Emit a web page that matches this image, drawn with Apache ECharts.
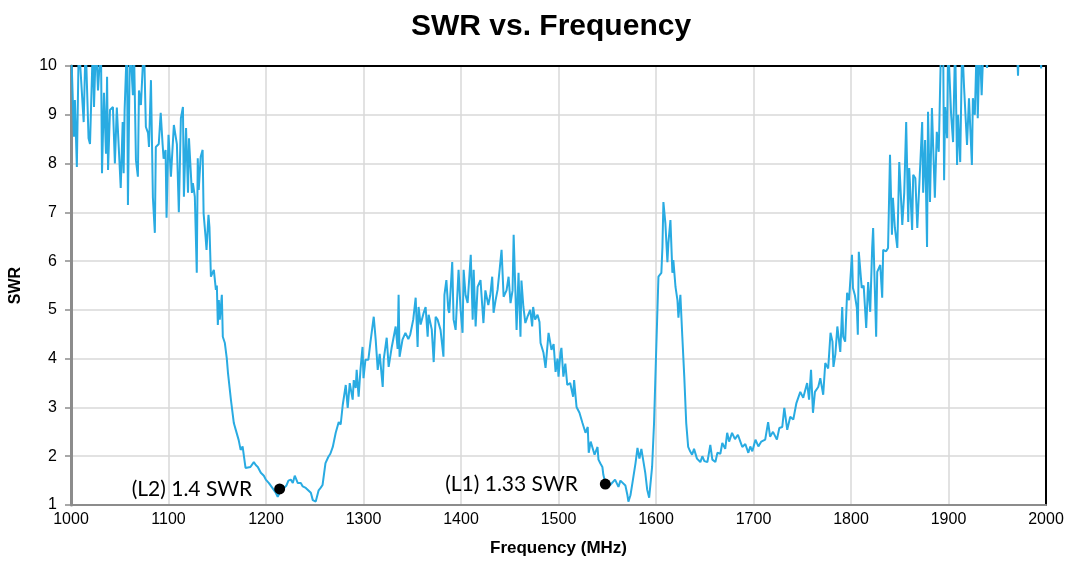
<!DOCTYPE html>
<html>
<head>
<meta charset="utf-8">
<script src="https://cdn.jsdelivr.net/npm/echarts@6/dist/echarts.min.js"></script>
<style>html,body{margin:0;padding:0;background:#fff}#c{width:1070px;height:562px}</style>
</head>
<body>
<div id="c"></div>
<script>
var titleText = 'SWR vs. Frequency';
var xName = 'Frequency (MHz)';
var yName = 'SWR';
var xTicks = [1000, 2000, 100];
var yTicks = [1, 10, 1];

var freqMHz = [
1000,1003,1004,1006,1008,1013,1015,1018,1019.5,1022.5,1023.6,1025.6,1027.7,1030.7,1031.8,1033.8,1035.9,1037,1038,1040,
1043,1045,1047,1049,1051,1053,1054,1055,1057.4,1058.4,1060.5,1063.5,1064.5,1066.6,1068.6,1069.7,1071.7,1074.8,1076.8,1079,
1080,1082,1084,1086,1087,1090,1092,1094,1095,1097,1098,1100,1102.5,1105.5,1108.6,1110.6,1112.7,1114.8,1115.8,1118,
1120,1121,1124,1125,1127,1129,1130,1131,1133,1135,1136,1138,1139,1141,1142,1143.5,1144.5,1146.5,1148.6,1149.6,
1150.6,1151.6,1152.6,1154.7,1155.7,1157.8,1159.8,1161,1164,1165,1167,1169,1172,1174,1176,1179,1181,1184,1187.5,1189.5,
1191.6,1194.7,1197.8,1199.8,1203,1205,1208,1210,1212,1214,1216,1218,1221,1223,1225.4,1227.5,1229.5,1230.5,1232.6,1235.7,
1237.7,1240.8,1242.8,1246,1248,1249,1251,1254,1256,1258,1259,1261,1264,1266,1268.5,1271.5,1274.6,1276.6,1278.7,1281.8,
1283.8,1285.9,1288.9,1290,1292,1293,1295,1297,1299,1300,1302,1305,1307,1310.5,1312.5,1314.6,1316.6,1319.7,1320.7,1323.8,
1325.8,1329,1331,1333,1335,1336,1337,1340,1343,1346,1348,1351,1353.5,1355.5,1356.5,1358.6,1361.7,1363.7,1365.8,1366.8,
1370,1372,1374,1376,1379,1382,1383,1385,1387,1388,1391,1392.4,1394.5,1397.5,1399.6,1401.6,1402.7,1404.7,1406.8,1410,
1412,1413,1415,1417,1420,1423,1425,1428,1430,1432,1433.4,1435.5,1437.5,1439.6,1441.6,1443.7,1446.7,1448.8,1450.8,1452.9,
1454,1457,1459,1461,1462,1464,1466,1468,1471,1473,1474,1476,1478.5,1480.5,1481.6,1484.6,1486.7,1489.8,1492.8,1495,
1497,1499,1500,1502,1503,1505,1507,1509,1512,1515,1516,1518.5,1521.5,1524.6,1527.7,1530,1531,1533,1535,1537,
1540,1541,1543,1545,1546,1548,1550,1553,1555,1558,1561.5,1563.5,1565.5,1568.6,1570.7,1571.7,1573.8,1575.8,1579,1581,
1583,1585,1587,1589,1591,1593,1596,1598,1600,1602.5,1605.5,1606.6,1607.6,1609.6,1611.7,1612.7,1614.8,1616.8,1617.8,1620,
1622,1623,1625,1627,1629,1631,1633,1635,1637,1639,1642,1645.5,1647.5,1649.6,1652.7,1655.7,1657.8,1660.9,1663,1664,
1666,1668,1671,1673,1675,1678,1681,1684,1686.5,1688.5,1691.6,1694.7,1696.7,1698.8,1702,1705,1708,1712,1715,1717,
1720,1724,1726.5,1729.5,1731.6,1734.6,1737.7,1740.8,1744,1746,1748,1751,1755,1757,1759,1761,1763,1766.4,1768.5,1771.5,
1773.6,1776.6,1779,1781,1782,1784,1786,1789,1791,1792,1794,1796,1798,1801,1802,1804,1806,1807,1808,1811,
1813,1815.6,1817.6,1819.7,1821.7,1822.7,1825.8,1826.9,1830,1832,1833,1836,1838,1840,1842,1843,1845,1847.5,1849.5,1852.6,
1854.6,1856.6,1858.7,1859.7,1862.7,1863.8,1866,1868,1871,1873,1874,1876,1878,1879,1881,1883,1886,1888,1890,1892.4,
1894.5,1895.5,1896.5,1898.6,1899.6,1902.7,1904.7,1906.8,1908.8,1909.8,1912,1914,1916,1919,1921,1924,1925,1927,1929,1930,
1932,1934,1936,1939.5,1941.6,1970,1971.3,1972.3,1994,1995,1996,2000
];
var swrValues = [
10.5,8.55,9.3,7.93,10.5,8.85,10.5,8.52,8.4,10.5,9.16,10.5,9.5,10.5,7.8,9.45,8.2,9.78,7.87,9.1,
9.16,8.0,9.15,9.16,7.5,8.85,7.8,9.1,10.5,7.15,10.5,9.4,10.5,8.07,7.73,9.5,9.2,10.5,8.75,8.63,
8.34,9.71,7.3,6.58,8.34,8.4,9.04,8.38,8.1,8.28,6.89,8.59,7.73,8.79,8.4,7.0,8.93,9.16,7.32,8.73,
7.4,8.52,7.4,7.6,7.32,5.76,8.11,7.46,8.14,8.28,6.98,6.5,6.23,6.95,6.7,5.68,5.65,5.82,5.41,5.5,
4.69,5.2,4.8,5.31,4.45,4.32,4.0,3.71,3.16,3.2,2.68,2.54,2.33,2.13,2.2,1.76,1.8,1.78,1.88,1.82,
1.78,1.66,1.6,1.52,1.45,1.41,1.31,1.25,1.17,1.25,1.3,1.31,1.4,1.5,1.52,1.45,1.6,1.58,1.45,1.45,
1.38,1.35,1.31,1.25,1.1,1.07,1.07,1.3,1.35,1.41,1.45,1.86,1.99,2.05,2.19,2.48,2.7,2.65,3.05,3.46,
2.99,3.5,3.16,3.56,3.4,3.77,3.22,3.8,4.24,3.6,3.98,3.98,4.32,4.86,4.39,3.77,4.1,3.42,3.98,4.43,
3.83,4.24,4.45,4.66,4.2,5.31,4.04,4.39,4.53,4.4,4.5,4.8,5.25,4.24,5.06,4.7,4.94,5.06,4.45,4.9,
4.6,3.93,4.86,4.8,4.59,4.04,5.31,5.61,5.0,4.94,5.98,4.8,4.59,5.82,5.0,4.53,5.82,5.3,5.14,6.13,
4.8,5.82,4.66,5.47,5.61,4.73,5.4,5.1,5.3,5.68,4.94,5.2,5.41,5.82,6.23,5.27,5.4,5.68,5.14,5.4,
6.54,4.59,5.76,4.45,5.6,5.06,4.73,4.85,5.0,4.66,5.06,4.8,4.9,4.75,4.32,4.12,3.81,4.53,4.18,4.3,
3.73,4.0,3.63,4.12,4.22,3.63,3.9,3.46,3.5,3.22,3.56,3.01,2.89,2.68,2.48,2.6,2.07,2.3,2.27,2.03,
2.19,1.93,1.85,1.78,1.62,1.45,1.42,1.41,1.45,1.52,1.37,1.5,1.48,1.4,1.2,1.07,1.2,1.45,1.86,2.17,
1.95,2.15,2.13,1.66,1.31,1.15,1.78,2.68,4.04,5.68,5.76,6.29,7.21,6.78,5.98,6.37,6.84,5.76,6.02,5.47,
5.2,4.84,5.31,4.45,3.63,2.68,2.19,2.1,2.03,2.15,1.95,1.88,2.0,1.9,1.88,2.23,1.93,1.88,2.07,2.09,
2.05,2.27,2.15,2.48,2.3,2.48,2.35,2.44,2.3,2.19,2.25,2.07,2.2,2.1,2.34,2.2,2.3,2.34,2.7,2.4,
2.5,2.34,2.58,2.6,2.99,2.54,2.81,2.75,3.09,3.1,3.32,3.2,3.5,3.16,3.77,2.89,3.32,3.42,3.6,3.26,
3.91,3.8,4.53,4.35,3.83,4.1,4.66,4.14,5.06,4.45,4.35,5.35,5.2,6.13,5.45,5.3,5.04,4.49,6.19,5.45,
5.5,4.63,5.57,4.96,6.27,6.68,4.45,5.78,5.92,5.25,6.23,6.2,6.27,8.18,6.54,7.3,6.68,6.27,8.03,6.74,
7.4,8.85,6.8,7.91,6.64,7.77,7.7,6.68,7.97,8.85,7.4,8.48,6.29,9.06,7.21,9.14,7.3,8.65,8.24,10.5,
10.5,7.66,9.16,8.52,10.5,9.0,8.44,10.5,7.97,9.0,8.03,10.5,9.55,8.38,9.34,7.97,9.34,9.0,10.5,8.93,
10.5,9.4,10.5,9.96,10.5,10.5,9.8,10.5,10.5,9.95,10.5,10.5
];

var markerFreq = [1214, 1548];
var markerSwr = [1.33, 1.43];
var markerText = ['(L2) 1.4 SWR', '(L1) 1.33 SWR'];

var lineData = freqMHz.map(function (f, i) { return [f, swrValues[i]]; });
var markerData = markerFreq.map(function (f, i) { return { value: [f, markerSwr[i]], label: { formatter: markerText[i] } }; });

var FONT = 'Liberation Sans, Arial, sans-serif';
var chart = echarts.init(document.getElementById('c'), null, { renderer: 'canvas' });
chart.setOption({
  animation: false,
  backgroundColor: '#ffffff',
  title: {
    text: titleText,
    left: 406,
    top: 7,
    textStyle: { fontFamily: FONT, fontWeight: 'bold', fontSize: 30, color: '#000' }
  },
  grid: {
    left: 70, right: 24, top: 66, bottom: 57,
    show: false
  },
  xAxis: [{
    type: 'value',
    min: xTicks[0], max: xTicks[1], interval: xTicks[2],
    name: xName, nameLocation: 'middle', nameGap: 35,
    nameTextStyle: { fontFamily: FONT, fontWeight: 'bold', fontSize: 17, color: '#000' },
    axisLine: { show: true, onZero: false, lineStyle: { color: '#8c8c8c', width: 2 } },
    axisTick: { show: false },
    axisLabel: { fontFamily: FONT, fontSize: 16, color: '#000', margin: 7, formatter: function (v) { return String(v); } },
    splitLine: { show: true, lineStyle: { color: '#d9d9d9', width: 1.5 } }
  }, {
    type: 'value', position: 'top',
    min: xTicks[0], max: xTicks[1], interval: xTicks[2],
    axisLine: { show: true, onZero: false, lineStyle: { color: '#000', width: 2 } },
    axisTick: { show: false }, axisLabel: { show: false }, splitLine: { show: false }
  }],
  yAxis: [{
    type: 'value',
    min: yTicks[0], max: yTicks[1], interval: yTicks[2],
    name: yName, nameLocation: 'middle', nameGap: 47, nameRotate: 90,
    nameTextStyle: { fontFamily: FONT, fontWeight: 'bold', fontSize: 16, color: '#000' },
    axisLine: { show: true, onZero: false, lineStyle: { color: '#8c8c8c', width: 3 } },
    axisTick: { show: true, length: 6, lineStyle: { color: '#8c8c8c', width: 1.5 } },
    axisLabel: { fontFamily: FONT, fontSize: 16, color: '#000', margin: 14 },
    splitLine: { show: true, lineStyle: { color: '#d9d9d9', width: 1.5 } }
  }, {
    type: 'value', position: 'right',
    min: yTicks[0], max: yTicks[1], interval: yTicks[2],
    axisLine: { show: true, onZero: false, lineStyle: { color: '#000', width: 2 } },
    axisTick: { show: false }, axisLabel: { show: false }, splitLine: { show: false }
  }],
  series: [
    {
      type: 'line',
      data: lineData,
      showSymbol: false,
      symbol: 'none',
      clip: true,
      lineStyle: { color: '#29abe2', width: 2 },
      z: 3
    },
    {
      type: 'scatter',
      data: markerData,
      symbol: 'circle',
      symbolSize: 11,
      itemStyle: { color: '#000', opacity: 1 },
      label: {
        show: true, position: 'left', distance: 22,
        fontFamily: 'Lato, Open Sans, sans-serif', fontSize: 21, color: '#000'
      },
      z: 5
    }
  ]
});
</script>
</body>
</html>
